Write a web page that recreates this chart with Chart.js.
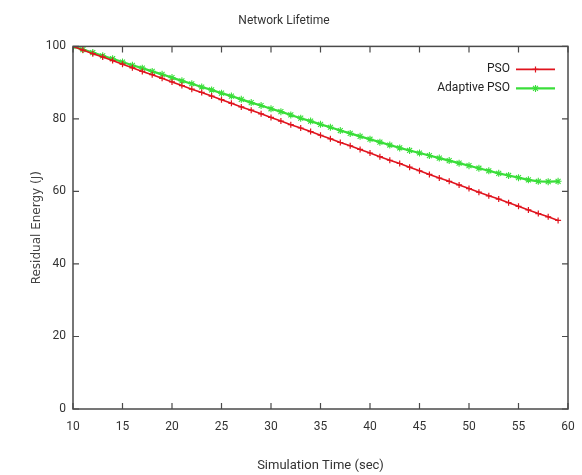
<!DOCTYPE html>
<html>
<head>
<meta charset="utf-8">
<script src="https://cdn.jsdelivr.net/npm/chart.js@4.4.1/dist/chart.umd.min.js"></script>
<style>
  html, body { margin: 0; padding: 0; background: #fff; }
  #wrap { width: 582px; height: 475px; position: relative; }
</style>
</head>
<body>
<div id="wrap"><canvas id="c" width="582" height="475"></canvas></div>
<script>
// ---- data ----
const chartTitle = "Network Lifetime";
const xTitle = "Simulation Time (sec)";
const yTitle = "Residual Energy (J)";
const seriesNames = ["PSO", "Adaptive PSO"];
const simTime = [10,11,12,13,14,15,16,17,18,19,20,21,22,23,24,25,26,27,28,29,30,31,32,33,34,35,36,37,38,39,40,41,42,43,44,45,46,47,48,49,50,51,52,53,54,55,56,57,58,59];
const psoEnergy = [100,99.0,98.0,97.1,96.1,95.1,94.1,93.1,92.2,91.2,90.2,89.2,88.2,87.3,86.3,85.3,84.3,83.3,82.4,81.4,80.4,79.4,78.4,77.5,76.5,75.5,74.5,73.5,72.6,71.6,70.6,69.6,68.6,67.7,66.7,65.7,64.7,63.7,62.8,61.8,60.8,59.8,58.8,57.9,56.9,55.9,54.9,53.9,53.0,52.0];
const adaptiveEnergy = [100,99.1,98.3,97.4,96.6,95.7,94.8,94.0,93.1,92.3,91.4,90.5,89.7,88.8,88.0,87.1,86.3,85.4,84.5,83.7,82.8,82.0,81.1,80.2,79.4,78.5,77.7,76.8,76.0,75.2,74.4,73.6,72.8,72.0,71.3,70.6,69.9,69.2,68.5,67.8,67.1,66.4,65.7,65.0,64.4,63.8,63.2,62.8,62.7,62.8];
const xTicks = [10,15,20,25,30,35,40,45,50,55,60];
const yTicks = [0,20,40,60,80,100];

const narrow = "'Liberation Sans Narrow', Roboto, 'Liberation Sans', sans-serif";

const pts = (xs, ys) => xs.map((x, i) => ({ x: x, y: ys[i] }));

// gnuplot-like frame with inward mirrored ticks + legend inside
const framePlugin = {
  id: 'frame',
  afterDatasetsDraw(chart) {
    const { ctx, chartArea: a, scales } = chart;
    ctx.save();
    ctx.strokeStyle = '#4a4a4a';
    ctx.lineWidth = 1.5;
    ctx.strokeRect(a.left, a.top, a.right - a.left, a.bottom - a.top);
    ctx.lineWidth = 1.2;
    const tl = 6;
    ctx.beginPath();
    scales.x.ticks.forEach(t => {
      const px = scales.x.getPixelForValue(t.value);
      ctx.moveTo(px, a.bottom); ctx.lineTo(px, a.bottom - tl);
      ctx.moveTo(px, a.top); ctx.lineTo(px, a.top + tl);
    });
    scales.y.ticks.forEach(t => {
      const py = scales.y.getPixelForValue(t.value);
      ctx.moveTo(a.left, py); ctx.lineTo(a.left + tl, py);
      ctx.moveTo(a.right, py); ctx.lineTo(a.right - tl, py);
    });
    ctx.stroke();

    // legend
    ctx.font = "12px " + narrow;
    ctx.textAlign = 'right';
    ctx.textBaseline = 'middle';
    chart.data.datasets.forEach((ds, i) => {
      const y = a.top + 23 + i * 19;
      const x1 = a.right - 52, x2 = a.right - 13;
      ctx.fillStyle = '#222';
      ctx.fillText(ds.label, x1 - 6, y);
      ctx.strokeStyle = ds.borderColor;
      ctx.lineWidth = ds.borderWidth;
      ctx.beginPath(); ctx.moveTo(x1, y); ctx.lineTo(x2, y); ctx.stroke();
      ctx.lineWidth = ds.pointBorderWidth;
      Chart.helpers.drawPoint(ctx, {
        pointStyle: ds.pointStyle, radius: ds.pointRadius, borderWidth: ds.pointBorderWidth, rotation: 0
      }, (x1 + x2) / 2, y);
    });
    ctx.restore();
  }
};

new Chart(document.getElementById('c'), {
  type: 'line',
  data: {
    datasets: [
      {
        label: seriesNames[0],
        data: pts(simTime, psoEnergy),
        borderColor: '#e0141e',
        backgroundColor: '#e0141e',
        borderWidth: 1.6,
        pointStyle: 'cross',
        pointRadius: 3,
        pointBorderWidth: 1.2,
        fill: false,
        tension: 0
      },
      {
        label: seriesNames[1],
        data: pts(simTime, adaptiveEnergy),
        borderColor: '#3ade3a',
        backgroundColor: '#3ade3a',
        borderWidth: 2.2,
        pointStyle: 'star',
        pointRadius: 3.5,
        pointBorderWidth: 1.1,
        fill: false,
        tension: 0
      }
    ]
  },
  options: {
    responsive: false,
    animation: false,
    devicePixelRatio: 1,
    layout: { padding: { top: 0, right: 14, bottom: 0, left: 0 } },
    plugins: {
      legend: { display: false },
      tooltip: { enabled: false },
      title: {
        display: true,
        text: chartTitle,
        color: '#333',
        font: { family: narrow, size: 12, weight: 'normal' },
        padding: { top: 14, bottom: 18 }
      }
    },
    scales: {
      x: {
        type: 'linear',
        min: 10, max: 60,
        afterBuildTicks: s => { s.ticks = xTicks.map(v => ({ value: v })); },
        afterFit: s => { s.height = 66; },
        grid: { display: false, drawTicks: true, tickLength: 11 },
        border: { display: false },
        ticks: { color: '#333', font: { family: narrow, size: 12 }, padding: 0, maxRotation: 0 },
        title: {
          display: true, text: xTitle, color: '#333',
          font: { family: narrow, size: 13 },
          padding: { top: 1, bottom: 1 }
        }
      },
      y: {
        min: 0, max: 100,
        afterBuildTicks: s => { s.ticks = yTicks.map(v => ({ value: v })); },
        afterFit: s => { s.width = 73; },
        grid: { display: false, drawTicks: false },
        border: { display: false },
        ticks: { color: '#333', font: { family: narrow, size: 12 }, padding: 7 },
        title: {
          display: true, text: yTitle, color: '#444',
          font: { family: "'DejaVu Sans', sans-serif", size: 12 },
          padding: { top: 30, bottom: 4 }
        }
      }
    }
  },
  plugins: [framePlugin]
});
</script>
</body>
</html>
